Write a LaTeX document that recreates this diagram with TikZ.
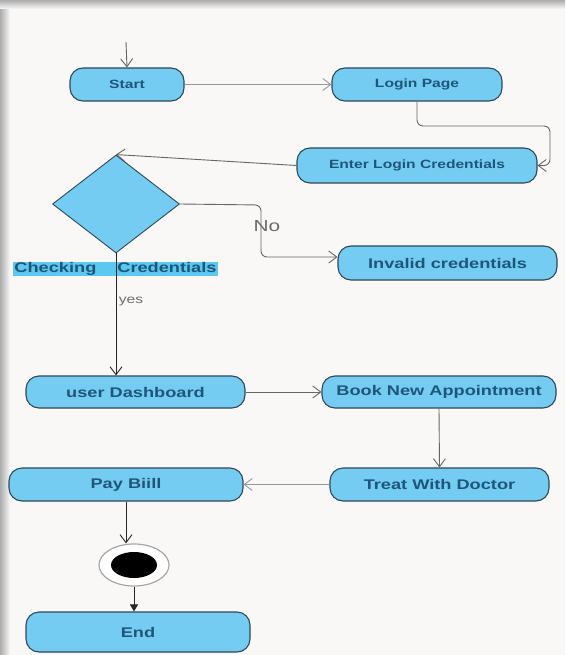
\documentclass[tikz,border=0pt]{standalone}
\usepackage{fontspec}
\setmainfont{Liberation Sans}[FakeStretch=1.3]
\usetikzlibrary{arrows.meta,shapes.geometric}
\definecolor{nfill}{HTML}{74CCF2}
\definecolor{nborder}{HTML}{2F4856}
\definecolor{ntext}{HTML}{1E5679}
\definecolor{edgec}{HTML}{666666}
\definecolor{bgc}{HTML}{FAF7F7}
\definecolor{hl}{HTML}{5CC8F0}
\tikzset{
  act/.style={draw=nborder, line width=1.1pt, fill=nfill, rounded corners=13pt,
    text=ntext, inner sep=0pt, font=\bfseries\fontsize{14}{16}\selectfont},
  actsmall/.style={act, font=\bfseries\fontsize{12}{14}\selectfont},
  flow/.style={draw=edgec, line width=0.9pt, -{Straight Barb[length=8pt,width=12pt]}},
  lbl/.style={text=gray!85!black, inner sep=0pt},
}
\begin{document}
\begin{tikzpicture}[x=1pt,y=-1pt]
\useasboundingbox (0,0) rectangle (565,655);
% background with shadow
\fill[bgc] (0,0) rectangle (565,655);
\shade[left color=gray!65, right color=bgc] (0,0) rectangle (10,655);
\shade[top color=gray!65, bottom color=bgc] (0,0) rectangle (565,9);
\fill[bgc] (10,9) rectangle (565,655);

% nodes
\node[actsmall, minimum width=114, minimum height=33] (start) at (127,84.5) {Start};
\node[actsmall, minimum width=170, minimum height=33] (login) at (417,84.5) {Login Page};
\node[actsmall, minimum width=240, minimum height=35] (enter) at (417,165.5) {Enter Login Credentials};
\node[diamond, draw=nborder, line width=0.9pt, fill=nfill, minimum width=127, minimum height=98, inner sep=0pt] (dia) at (116,204) {};
\node[act, minimum width=219, minimum height=34] (invalid) at (447.5,263) {Invalid credentials};
\node[fill=hl, minimum width=205, minimum height=14, inner sep=0pt, text=ntext,
      font=\bfseries\fontsize{14}{14}\selectfont] (chk) at (115.5,269) {Checking\hspace{21pt}Credentials};
\node[act, minimum width=219, minimum height=32] (user) at (135.5,392) {user Dashboard};
\node[act, minimum width=234, minimum height=32] (book) at (439,392) {Book New Appointment};
\node[act, minimum width=219, minimum height=33] (treat) at (439.5,484.5) {Treat With Doctor};
\node[act, minimum width=234, minimum height=33] (pay) at (126,484.5) {Pay Biill};
\node[ellipse, draw=gray!70, line width=1.2pt, fill=white, minimum width=70, minimum height=42, inner sep=0pt] (fin) at (134,565) {};
\node[ellipse, fill=black, minimum width=46, minimum height=26, inner sep=0pt] (fininner) at (fin.center) {};
\node[act, minimum width=224, minimum height=40] (end) at (138,632) {End};

\coordinate (init) at (126,42);
\coordinate (c1) at (417,126);
\coordinate (c2) at (550,126);
\coordinate (c3) at (550,165.5);
\coordinate (n1) at (261,205);
\coordinate (n2) at (261,257);

% connectors
\draw[flow] (init) -- (start.north);
\draw[flow, draw=gray!80] (start.east) -- (login.west);
\draw[flow, rounded corners=6pt] (login.south) -- (c1) -- (c2) -- (c3) -- (enter.east);
\draw[flow] (enter.west) -- (dia.north);
\draw[flow, rounded corners=6pt] (dia.east) -- (n1) -- (n2) -- (n2 -| invalid.west);
\node[lbl, font=\fontsize{16}{16}\selectfont] (no) at (267,226) {No};
\draw[draw=black!85, line width=1pt] (dia.south) -- (chk.south -| dia.south);
\draw[flow, draw=black!85] (chk.south -| dia.south) -- (dia.south |- user.north);
\node[lbl, font=\fontsize{12}{12}\selectfont] (yes) at (131,302) {yes};
\draw[flow] (user.east) -- (book.west);
\draw[flow] (book.south) -- (treat.north);
\draw[flow, draw=gray!80] (treat.west) -- (pay.east);
\draw[flow, draw=black!85] (pay.south) -- (pay.south |- fin.north);
\draw[draw=black!85, line width=1pt, -{Triangle[length=7pt,width=8pt]}] (fin.south) -- (fin.south |- end.north);
\end{tikzpicture}
\end{document}
